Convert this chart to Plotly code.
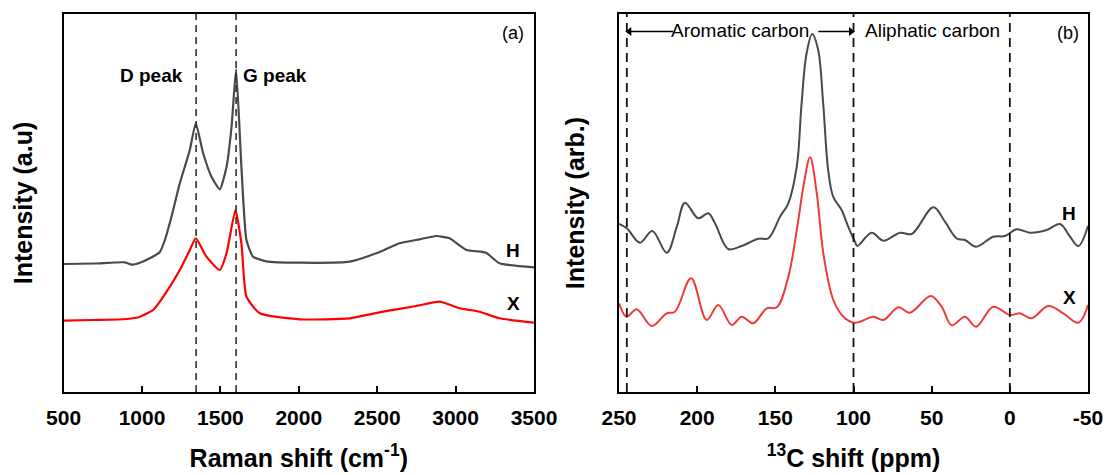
import plotly.graph_objects as go

# ---------------- Panel (a): Raman spectra ----------------
raman_H_x = [500, 700, 891, 934, 987, 1050, 1114, 1146, 1188, 1241, 1305, 1343, 1390, 1443, 1496,
             1539, 1571, 1600, 1634, 1666, 1708, 1794, 2006, 2324, 2494, 2643, 2770, 2877, 2961,
             3068, 3163, 3195, 3280, 3500]
raman_H_y = [128, 128.5, 129.7, 127.3, 129.3, 133.7, 140, 152, 175.3, 208.7, 242, 268.7, 238.7, 215.3, 202.7,
             225, 265, 322.7, 225, 152, 135.3, 130.7, 129.3, 130.3, 138.7, 148.7, 152.7, 156, 153.7,
             142, 140.3, 139.3, 128.7, 124.7]

raman_X_x = [500, 689, 902, 987, 1071, 1114, 1157, 1241, 1305, 1343, 1411, 1496, 1539, 1596, 1634,
             1666, 1751, 2006, 2324, 2536, 2749, 2898, 3025, 3152, 3280, 3500]
raman_X_y = [71.3, 72, 73, 75.3, 82, 90.3, 100.3, 122, 142, 153.7, 135.3, 122, 138.7, 182, 148.7,
             95.3, 78.7, 72.7, 73.7, 80.3, 86, 90.3, 83.7, 80.3, 73.7, 69.3]

raman_ticks = [500, 1000, 1500, 2000, 2500, 3000, 3500]
raman_peaks = [1345, 1600]

# ---------------- Panel (b): 13C NMR spectra ----------------
nmr_H_x = [250, 245, 236.6, 228.7, 219.5, 213, 207.8, 199.3, 192.9, 188.6, 180.1, 171.5, 160.9, 154.5,
           147, 141.7, 136.3, 133.2, 130, 126.4, 122.6, 119.4, 116.2, 113, 107.6, 103.4, 99,
           97.6, 88.4, 80.9, 70.2, 62.8, 48.9, 41.5, 34, 28.7, 21.6, 10.6, 3.1, -4.4, -12.9,
           -23.6, -32.1, -38.5, -43.8, -50]
nmr_H_y = [168, 163.7, 149.3, 161, 139.3, 165.3, 189.3, 173.7, 178.7, 168.7, 143, 146, 153.3, 153.7,
           175.3, 188.7, 225.3, 288.7, 338.7, 358, 342, 288.7, 222, 195.3, 182, 165.3, 150,
           146, 159.3, 151.3, 159.3, 158, 184.7, 170.3, 153.7, 152, 145.3, 155.3, 156, 162.7, 159.3,
           162, 168, 155.3, 146, 166]

nmr_X_x = [250, 245.1, 238.7, 229.1, 219.5, 214.2, 203.9, 193.9, 186.5, 177.9, 171.5, 164.1, 155.5,
           149.1, 141.7, 135.3, 132.1, 127.8, 123.6, 119.3, 112.9, 106.5, 99.7, 95.8, 87.3, 80.9,
           71.3, 63.9, 50.6, 43.6, 37.2, 28.7, 21.6, 10.6, 0, -6.4, -13.9, -24.6, -34.2, -43.8, -50]
nmr_X_y = [88.7, 75.3, 82.7, 66, 78.7, 80.3, 113.7, 72, 87, 67, 75.3, 68.7, 83.7,
           84.7, 115.3, 172, 205, 234.7, 200, 138.7, 92, 75.3, 69.3, 70.3, 75.3, 72,
           84.7, 79.3, 96, 85.3, 66.7, 75.3, 65.3, 85.3, 77, 78.7, 73.7, 86, 78.7, 69.3, 87]

nmr_ticks = [250, 200, 150, 100, 50, 0, -50]
nmr_ticktext = ["250", "200", "150", "100", "50", "0", "-50"]
nmr_bounds = [245, 100, 0]

# region arrows (tail, tip) in ppm, at a level in the intensity scale
arom_arrow_left = [215.5, 243.4]
arom_arrow_right = [122.5, 101.6]
arrow_level = 360.5

Y_RANGE = [0, 378]
FONT = "Liberation Sans, Arial, sans-serif"
GRAY = "#4a4a4a"

fig = go.Figure()
fig.add_trace(go.Scatter(x=raman_H_x, y=raman_H_y, mode="lines", xaxis="x", yaxis="y",
                         line=dict(color=GRAY, width=2.2, shape="spline", smoothing=0.5)))
fig.add_trace(go.Scatter(x=raman_X_x, y=raman_X_y, mode="lines", xaxis="x", yaxis="y",
                         line=dict(color="#ff0000", width=2.2, shape="spline", smoothing=0.5)))
fig.add_trace(go.Scatter(x=nmr_H_x, y=nmr_H_y, mode="lines", xaxis="x2", yaxis="y2",
                         line=dict(color=GRAY, width=2, shape="spline", smoothing=1)))
fig.add_trace(go.Scatter(x=nmr_X_x, y=nmr_X_y, mode="lines", xaxis="x2", yaxis="y2",
                         line=dict(color="#f03a3a", width=2, shape="spline", smoothing=1)))

# arrows: line + arrowhead marker at tip
for seg, sym in [(arom_arrow_left, "triangle-left"), (arom_arrow_right, "triangle-right")]:
    fig.add_trace(go.Scatter(x=seg, y=[arrow_level, arrow_level], mode="lines", xaxis="x2", yaxis="y2",
                             line=dict(color="black", width=1.3), hoverinfo="skip"))
    fig.add_trace(go.Scatter(x=[seg[1]], y=[arrow_level], mode="markers", xaxis="x2", yaxis="y2",
                             marker=dict(symbol=sym, size=8, color="black"), hoverinfo="skip"))

shapes = []
for p in raman_peaks:
    shapes.append(dict(type="line", xref="x", yref="y domain", x0=p, x1=p, y0=0, y1=1,
                       line=dict(color="#303030", width=1.6, dash="7px,5px")))
for p in nmr_bounds:
    shapes.append(dict(type="line", xref="x2", yref="y2 domain", x0=p, x1=p, y0=0, y1=1,
                       line=dict(color="#111111", width=1.8, dash="9px,6px")))

ydom = [1 - 392 / 475, 1 - 14 / 475]
axis_common = dict(showline=True, linecolor="black", linewidth=1.6, mirror=True,
                   showgrid=False, zeroline=False, automargin=False)
title_font = dict(size=25, family=FONT, color="black", weight="bold")

fig.update_layout(
    width=1111, height=475,
    margin=dict(l=0, r=0, t=0, b=0, autoexpand=False),
    paper_bgcolor="white", plot_bgcolor="white",
    showlegend=False,
    font=dict(family=FONT, color="black"),
    xaxis=dict(domain=[63.6 / 1111, 534 / 1111], range=[500, 3500], tickvals=raman_ticks,
               ticks="inside", ticklen=6, tickwidth=1.5, tickcolor="black",
               tickfont=dict(size=21, family=FONT, weight="bold"), ticklabelstandoff=6,
               title=dict(text="Raman shift (cm<sup>-1</sup>)", font=title_font, standoff=21),
               anchor="y", **axis_common),
    yaxis=dict(domain=ydom, range=Y_RANGE, showticklabels=False, ticks="", anchor="x",
               title=dict(text="Intensity (a.u)", font=title_font, standoff=22),
               **axis_common),
    xaxis2=dict(domain=[619 / 1111, 1088 / 1111], range=[250, -50], tickvals=nmr_ticks,
                ticktext=nmr_ticktext,
                ticks="inside", ticklen=6, tickwidth=1.5, tickcolor="black",
                tickfont=dict(size=21, family=FONT, weight="bold"), ticklabelstandoff=6,
                title=dict(text="<sup>13</sup>C shift (ppm)", font=title_font, standoff=21),
                anchor="y2", **axis_common),
    yaxis2=dict(domain=ydom, range=Y_RANGE, showticklabels=False, ticks="", anchor="x2",
                title=dict(text="Intensity (arb.)", font=title_font, standoff=25),
                **axis_common),
    shapes=shapes,
)

def px_x(px):
    return px / 1111

def px_y(py):
    return 1 - py / 475

ann = []
def label(text, x, y, size, bold=False):
    ann.append(dict(text=("<b>%s</b>" % text) if bold else text, x=px_x(x), y=px_y(y),
                    xref="paper", yref="paper", showarrow=False,
                    xanchor="center", yanchor="middle",
                    font=dict(size=size, family=FONT, color="black")))

# panel (a) labels
label("(a)", 513, 33, 18)
label("D peak", 151, 75, 19, bold=True)
label("G peak", 275, 75, 19, bold=True)
label("H", 513, 250, 19, bold=True)
label("X", 513, 303, 19, bold=True)

# panel (b) labels
label("(b)", 1068, 33, 18)
label("Aromatic carbon", 740, 31, 19)
label("Aliphatic carbon", 932, 31, 19)
label("H", 1069, 213, 19, bold=True)
label("X", 1069, 297, 19, bold=True)

fig.update_layout(annotations=ann)
fig.write_html("out.html")
